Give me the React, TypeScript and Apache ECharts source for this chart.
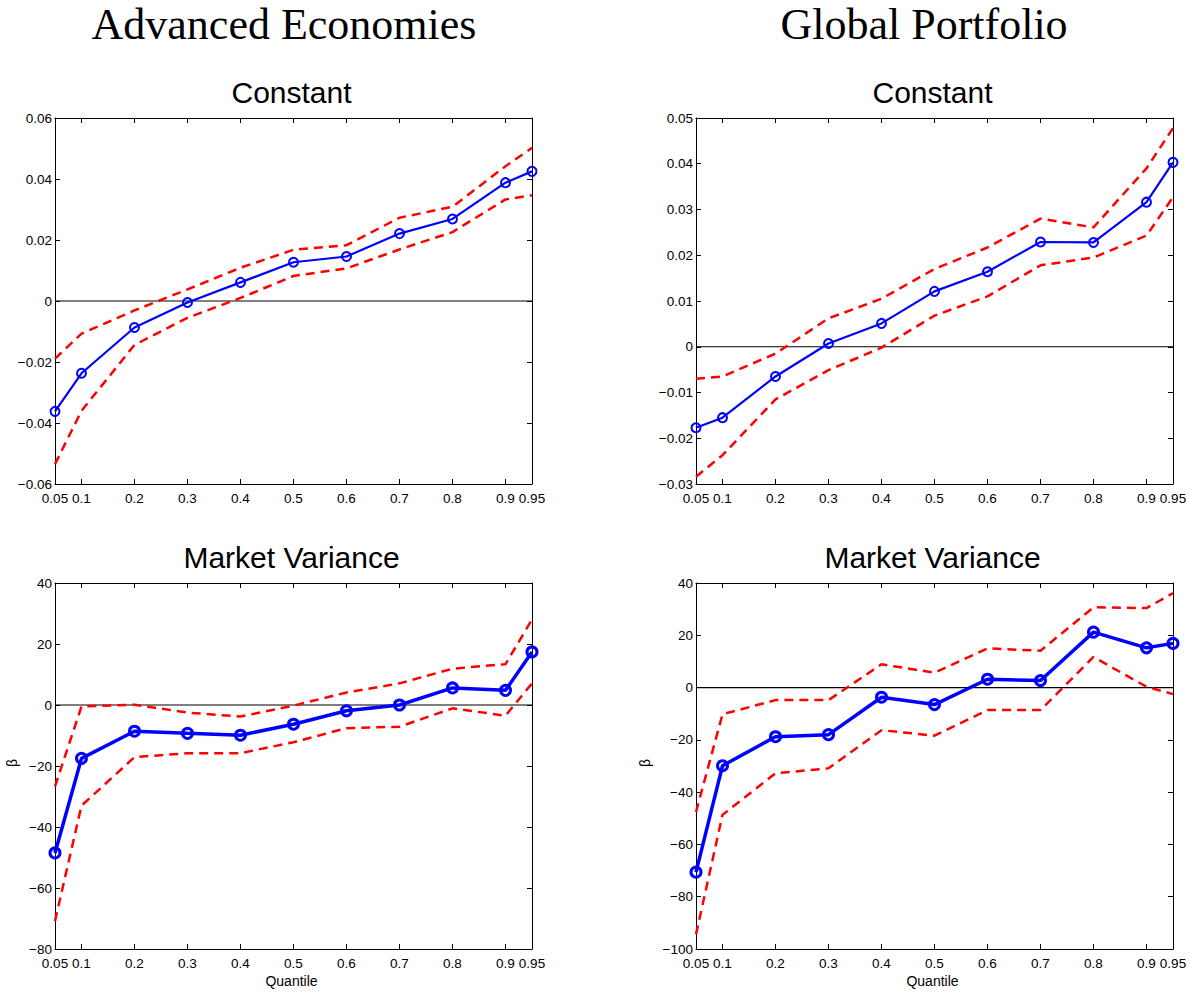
import React, { useEffect, useRef } from "react";
import * as echarts from "echarts";

const quantiles = [0.05, 0.1, 0.2, 0.3, 0.4, 0.5, 0.6, 0.7, 0.8, 0.9, 0.95];
const xTickValues = [0.05, 0.1, 0.2, 0.3, 0.4, 0.5, 0.6, 0.7, 0.8, 0.9, 0.95];

const aeConst = [-0.0362, -0.0237, -0.0087, -0.0005, 0.0061, 0.0127, 0.0146, 0.0221, 0.0269, 0.0388, 0.0425];
const aeConstUpper = [-0.0189, -0.0107, -0.0031, 0.0038, 0.0109, 0.0168, 0.0183, 0.0273, 0.0309, 0.0442, 0.0502];
const aeConstLower = [-0.0535, -0.036, -0.0144, -0.0055, 0.001, 0.0082, 0.0107, 0.0169, 0.0226, 0.0333, 0.0347];

const gpConst = [-0.0177, -0.0155, -0.0065, 0.0007, 0.0051, 0.0121, 0.0164, 0.0229, 0.0228, 0.0316, 0.0403];
const gpConstUpper = [-0.007, -0.0065, -0.0015, 0.0062, 0.0105, 0.017, 0.0217, 0.028, 0.0261, 0.039, 0.0478];
const gpConstLower = [-0.0284, -0.0237, -0.0115, -0.0051, -0.0002, 0.0068, 0.011, 0.0178, 0.0195, 0.0243, 0.0327];

const aeVar = [-48.5, -17.5, -8.6, -9.3, -9.9, -6.3, -1.9, 0, 5.6, 4.8, 17.4];
const aeVarUpper = [-26.7, -0.5, 0.1, -2.5, -3.8, -0.2, 4.1, 7.1, 11.9, 13.4, 28];
const aeVarLower = [-70.8, -33, -17.1, -15.8, -15.8, -12.2, -7.6, -7.1, -1.1, -3.5, 7.1];

const gpVar = [-70.6, -29.9, -18.8, -18, -3.7, -6.5, 3.2, 2.7, 21.2, 15.2, 16.9];
const gpVarUpper = [-47.6, -10.2, -4.8, -4.8, 8.9, 5.7, 15, 14.1, 30.7, 30.4, 36.1];
const gpVarLower = [-94.4, -48.7, -32.8, -30.9, -16.3, -18.4, -8.6, -8.6, 11.7, 0.3, -2.5];

const columnTitles = ["Advanced Economies", "Global Portfolio"];
const panelTitles = ["Constant", "Constant", "Market Variance", "Market Variance"];
const xAxisName = "Quantile";
const yAxisName = "β";

type Panel = {
  est: number[];
  up: number[];
  lo: number[];
  min: number;
  max: number;
  interval: number;
  left: number;
  top: number;
  thick: boolean;
  betaX: number;
};

const panels: Panel[] = [
  { est: aeConst, up: aeConstUpper, lo: aeConstLower, min: -0.06, max: 0.06, interval: 0.02, left: 55, top: 118, thick: false, betaX: 12 },
  { est: gpConst, up: gpConstUpper, lo: gpConstLower, min: -0.03, max: 0.05, interval: 0.01, left: 696, top: 118, thick: false, betaX: 645 },
  { est: aeVar, up: aeVarUpper, lo: aeVarLower, min: -80, max: 40, interval: 20, left: 55, top: 583, thick: true, betaX: 12 },
  { est: gpVar, up: gpVarUpper, lo: gpVarLower, min: -100, max: 40, interval: 20, left: 696, top: 583, thick: true, betaX: 645 },
];

const W = 477;
const H = 366;
const FONT = "Liberation Sans, Arial, Helvetica, sans-serif";
const SERIF = `"Liberation Serif", "Times New Roman", serif`;

const pair = (ys: number[]) => quantiles.map((q, i) => [q, ys[i]]);

function buildOption() {
  const grid: any[] = [];
  const xAxis: any[] = [];
  const yAxis: any[] = [];
  const series: any[] = [];
  const graphic: any[] = [];

  const fmtY = (v: number) => Number(v.toFixed(4)).toString().replace("-", "\u2212");
  const fmtX = (v: number) => Number(v.toFixed(2)).toString();

  panels.forEach((p, i) => {
    grid.push({ left: p.left, top: p.top, width: W, height: H, containLabel: false });
    const axisLine = { show: true, onZero: false, lineStyle: { color: "#000", width: 1 } };
    const tick = { show: true, inside: true, length: 5, lineStyle: { color: "#000", width: 1 }, customValues: xTickValues };
    xAxis.push({
      type: "value", gridIndex: i, min: 0.05, max: 0.95, position: "bottom",
      axisLine, axisTick: tick, splitLine: { show: false },
      axisLabel: { customValues: xTickValues, formatter: fmtX, color: "#000", fontSize: 13.5, fontFamily: FONT, margin: 7, hideOverlap: false },
    });
    xAxis.push({
      type: "value", gridIndex: i, min: 0.05, max: 0.95, position: "top",
      axisLine, axisTick: tick, splitLine: { show: false }, axisLabel: { show: false },
    });
    const ytick = { show: true, inside: true, length: 5, lineStyle: { color: "#000", width: 1 } };
    yAxis.push({
      type: "value", gridIndex: i, min: p.min, max: p.max, interval: p.interval, position: "left",
      axisLine, axisTick: ytick, splitLine: { show: false },
      axisLabel: { formatter: fmtY, color: "#000", fontSize: 13.5, fontFamily: FONT, margin: 3 },
    });
    yAxis.push({
      type: "value", gridIndex: i, min: p.min, max: p.max, interval: p.interval, position: "right",
      axisLine, axisTick: ytick, splitLine: { show: false }, axisLabel: { show: false },
    });
    const xi = i * 2;
    const yi = i * 2;
    series.push({
      type: "line", xAxisIndex: xi, yAxisIndex: yi, data: [[0.05, 0], [0.95, 0]],
      showSymbol: false, symbol: "none", lineStyle: { color: "#000", width: 1.2 }, z: 1, silent: true,
    });
    [p.up, p.lo].forEach((b) => {
      series.push({
        type: "line", xAxisIndex: xi, yAxisIndex: yi, data: pair(b), symbol: "none",
        lineStyle: { color: "#ff0000", width: 2.5, type: [9, 6] }, z: 2, silent: true,
      });
    });
    series.push({
      type: "line", xAxisIndex: xi, yAxisIndex: yi, data: pair(p.est),
      symbol: "circle", symbolSize: p.thick ? 10 : 9,
      itemStyle: { color: "rgba(0,0,0,0)", borderColor: "#0000ff", borderWidth: p.thick ? 3 : 2 },
      lineStyle: { color: "#0000ff", width: p.thick ? 3.5 : 2.2 }, z: 3, silent: true,
    });

    graphic.push({
      type: "text", x: p.left + W / 2 - 2, y: p.top - 26,
      style: { text: panelTitles[i], font: `30px ${FONT}`, fill: "#000", align: "center", verticalAlign: "middle" },
    });
    if (i >= 2) {
      graphic.push({
        type: "text", x: p.left + W / 2 - 2, y: 981,
        style: { text: xAxisName, font: `14px ${FONT}`, fill: "#000", align: "center", verticalAlign: "middle" },
      });
      graphic.push({
        type: "text", x: p.betaX, y: p.top + H / 2 - 3, rotation: Math.PI / 2,
        style: { text: yAxisName, font: `14px ${FONT}`, fill: "#000", align: "center", verticalAlign: "middle" },
      });
    }
  });

  graphic.push({
    type: "text", x: 284, y: 24,
    style: { text: columnTitles[0], font: `44px ${SERIF}`, fill: "#000", align: "center", verticalAlign: "middle" },
  });
  graphic.push({
    type: "text", x: 924, y: 24,
    style: { text: columnTitles[1], font: `44px ${SERIF}`, fill: "#000", align: "center", verticalAlign: "middle" },
  });

  return { animation: false, backgroundColor: "#fff", grid, xAxis, yAxis, series, graphic };
}

export default function App() {
  const ref = useRef<HTMLDivElement>(null);
  useEffect(() => {
    if (!ref.current) return;
    const chart = echarts.init(ref.current, null, { renderer: "svg" });
    chart.setOption(buildOption());
    return () => chart.dispose();
  }, []);
  return (
    <div
      ref={ref}
      style={{ position: "absolute", left: 0, top: 0, width: 1194, height: 992, background: "#fff" }}
    />
  );
}
